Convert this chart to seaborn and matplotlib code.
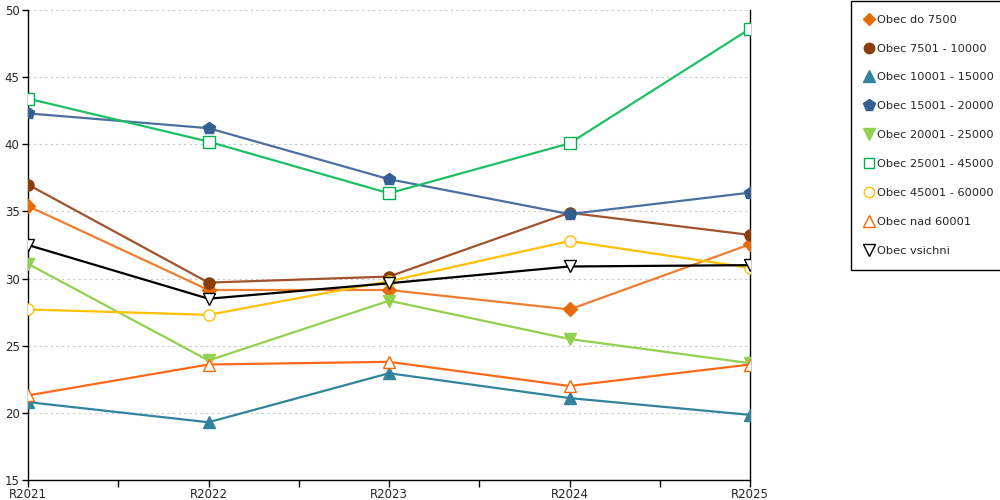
import pandas as pd
import matplotlib
matplotlib.use("Agg")
import matplotlib.pyplot as plt
from matplotlib.lines import Line2D
import seaborn as sns

# chart data
years = ["R2021", "R2022", "R2023", "R2024", "R2025"]
series_names = [
    "Obec do 7500", "Obec 7501 - 10000", "Obec 10001 - 15000",
    "Obec 15001 - 20000", "Obec 20001 - 25000", "Obec 25001 - 45000",
    "Obec 45001 - 60000", "Obec nad 60001", "Obec vsichni",
]
do_7500 = [35.4, 29.15, 29.15, 27.7, 32.55]
obec_7501_10000 = [37.0, 29.7, 30.15, 34.9, 33.25]
obec_10001_15000 = [20.8, 19.3, 22.95, 21.1, 19.85]
obec_15001_20000 = [42.3, 41.2, 37.4, 34.8, 36.4]
obec_20001_25000 = [31.1, 23.9, 28.35, 25.5, 23.7]
obec_25001_45000 = [43.4, 40.2, 36.35, 40.07, 48.6]
obec_45001_60000 = [27.7, 27.3, 29.8, 32.8, 30.8]
nad_60001 = [21.3, 23.6, 23.8, 22.0, 23.6]
vsichni = [32.5, 28.5, 29.65, 30.9, 31.0]

values = [do_7500, obec_7501_10000, obec_10001_15000, obec_15001_20000,
          obec_20001_25000, obec_25001_45000, obec_45001_60000, nad_60001, vsichni]

# style per series: line colour, marker colour, marker, filled
styles = [
    ("#ED7D31", "#E46C0A", "D", True),
    ("#A0522D", "#8B3E0C", "o", True),
    ("#31849B", "#31849B", "^", True),
    ("#4A6FA0", "#365F91", "p", True),
    ("#92D050", "#92D050", "v", True),
    ("#1EBF64", "#00B050", "s", False),
    ("#FFC000", "#FFC000", "o", False),
    ("#FF6A1A", "#FF6600", "^", False),
    ("#000000", "#000000", "v", False),
]
marker_sizes = {"D": 7, "o": 8, "^": 9, "p": 9, "v": 9, "s": 8}

rows = []
for name, vals in zip(series_names, values):
    for i, (yr, v) in enumerate(zip(years, vals)):
        rows.append({"series": name, "pos": i, "year": yr, "value": v})
df = pd.DataFrame(rows)

sns.set_style("white")
plt.rcParams["font.family"] = ["DejaVu Sans"]

fig = plt.figure(figsize=(10, 5), dpi=100)
ax = fig.add_axes([0.028, 0.04, 0.722, 0.94])

for name, (lc, mc, mk, filled) in zip(series_names, styles):
    sub = df[df["series"] == name]
    sns.lineplot(data=sub, x="pos", y="value", ax=ax, color=lc, linewidth=1.6,
                 marker=mk, markersize=marker_sizes[mk],
                 markerfacecolor=mc if filled else "white",
                 markeredgecolor=mc, markeredgewidth=1.0, zorder=3)

ax.set_xlim(0, len(years) - 1)
ax.set_ylim(15, 50)
ax.set_xticks(range(len(years)))
ax.set_xticklabels(years)
ax.set_xticks([i + 0.5 for i in range(len(years) - 1)], minor=True)
ax.set_yticks(range(15, 51, 5))
ax.set_xlabel("")
ax.set_ylabel("")

for y in range(20, 51, 5):
    ax.axhline(y, color="#C8C8C8", linestyle=(0, (2, 3)), linewidth=0.8, zorder=1)

for side in ["left", "bottom", "right"]:
    ax.spines[side].set_visible(True)
    ax.spines[side].set_color("black")
    ax.spines[side].set_linewidth(1.0)
ax.spines["top"].set_visible(False)
ax.spines["right"].set_zorder(2)

ax.tick_params(axis="both", which="both", direction="out", color="black",
               labelsize=8.5, length=5, width=1)
ax.tick_params(axis="y", length=4, pad=2)
ax.tick_params(axis="x", pad=1)
ax.yaxis.set_ticks_position("left")
ax.xaxis.set_ticks_position("bottom")

handles = []
for name, (lc, mc, mk, filled) in zip(series_names, styles):
    handles.append(Line2D([], [], linestyle="none", marker=mk,
                          markersize=marker_sizes[mk] - 0.5,
                          markerfacecolor=mc if filled else "white",
                          markeredgecolor=mc, markeredgewidth=1.0))
leg = fig.legend(handles, series_names, loc="upper left",
                 bbox_to_anchor=(0.851, 0.998), fontsize=8.2, frameon=True,
                 fancybox=False, edgecolor="black", framealpha=1,
                 labelspacing=1.66, handlelength=0.7, handletextpad=0.35,
                 borderpad=1.2, borderaxespad=0)
leg.get_frame().set_linewidth(1.0)

fig.savefig("out.png", dpi=100)
